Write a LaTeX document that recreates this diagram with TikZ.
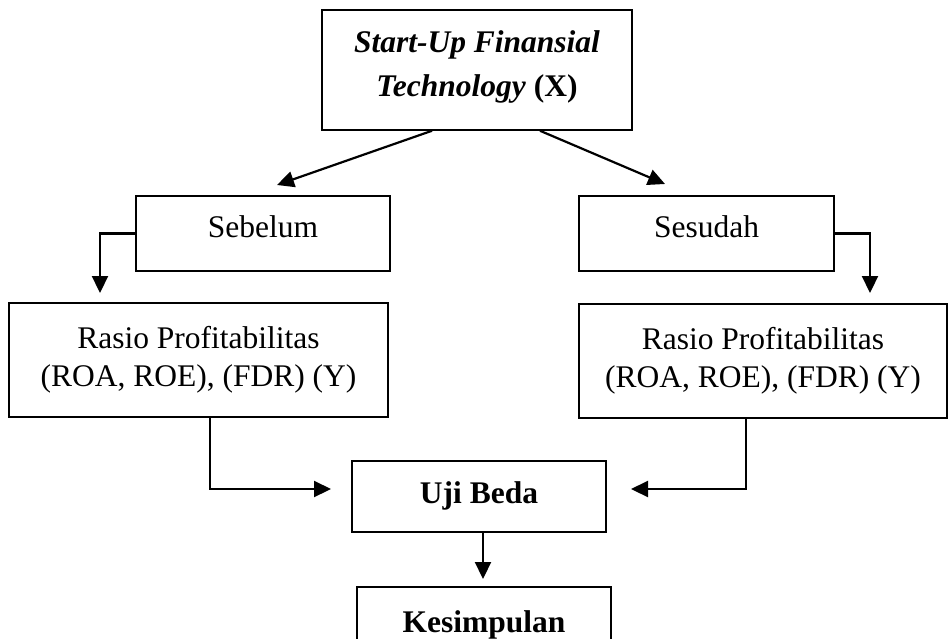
\documentclass[tikz,border=0pt]{standalone}
\usepackage{fontspec}
\setmainfont{Liberation Serif}
\usetikzlibrary{arrows.meta}
\begin{document}
\begin{tikzpicture}[x=1pt,y=-1pt,line width=1.5pt,
  every node/.style={font=\fontsize{31.5}{38}\selectfont,inner sep=0pt,align=center},
  box/.style={draw,rectangle},
  arr/.style={line width=2.2pt,-{Triangle[length=17pt,width=16pt]}}]
  \path[use as bounding box] (0,0) rectangle (948,638);
  \node[box,minimum width=310,minimum height=120,
    font=\fontsize{31.5}{44}\selectfont\bfseries] (fintech) at (477,70)
    {\textit{Start-Up Finansial}\\\textit{Technology} (X)\strut};
  \node[box,minimum width=254,minimum height=75,text depth=14pt] (sebelum) at (263,233.5) {Sebelum};
  \node[box,minimum width=255,minimum height=75,text depth=14pt] (sesudah) at (706.5,233.5) {Sesudah};
  \node[box,minimum width=379,minimum height=114] (rasioL) at (198.5,360)
    {Rasio Profitabilitas\\(ROA, ROE), (FDR) (Y)};
  \node[box,minimum width=368,minimum height=114] (rasioR) at (763,361)
    {Rasio Profitabilitas\\(ROA, ROE), (FDR) (Y)};
  \node[box,minimum width=254,minimum height=71,font=\fontsize{31.5}{38}\selectfont\bfseries,
    text depth=8pt] (uji) at (479,496.5) {Uji Beda};
  \node[box,minimum width=254,minimum height=76,font=\fontsize{31.5}{38}\selectfont\bfseries,
    anchor=north] (kesimpulan) at (484,586) {Kesimpulan};
  \coordinate (tl) at (277,185);
  \coordinate (tr) at (665,184);
  \coordinate (dl) at (100,293);
  \coordinate (dr) at (870,293);
  \coordinate (al) at (331,489);
  \coordinate (ar) at (631,489);
  \coordinate (ak) at (483,579);
  \draw[arr] ([xshift=-45]fintech.south) -- (tl);
  \draw[arr] ([xshift=63]fintech.south) -- (tr);
  \draw[arr] (sebelum.west) -| (dl);
  \draw[arr] (sesudah.east) -| (dr);
  \draw[arr] ([xshift=11.5]rasioL.south) |- (al);
  \draw[arr] ([xshift=-17]rasioR.south) |- (ar);
  \draw[arr] ([xshift=4]uji.south) -- (ak);
\end{tikzpicture}
\end{document}
